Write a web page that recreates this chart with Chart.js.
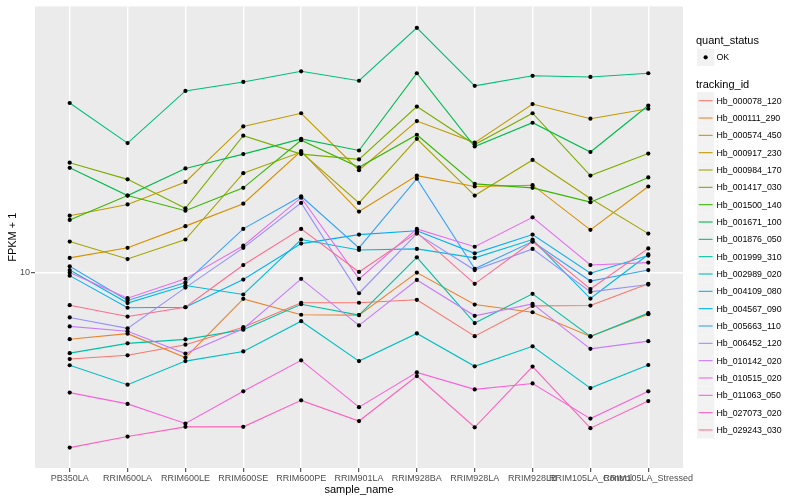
<!DOCTYPE html>
<html>
<head>
<meta charset="utf-8">
<script src="https://cdn.jsdelivr.net/npm/chart.js@4.4.1/dist/chart.umd.min.js"></script>
<style>
  html, body { margin: 0; padding: 0; background: #fff; }
  #wrap { width: 800px; height: 500px; }
</style>
</head>
<body>
<div id="wrap"><canvas id="fpkm"></canvas></div>
<script>
// samples on the x axis
var samples = ["PB350LA", "RRIM600LA", "RRIM600LE", "RRIM600SE", "RRIM600PE", "RRIM901LA",
               "RRIM928BA", "RRIM928LA", "RRIM928LB", "RRIM105LA_Control", "RRIM105LA_Stressed"];
var yTicks = [10];

// FPKM + 1 per gene, one value per sample
var hb000078_120 = [5.14, 5.29, 5.74, 6.57, 7.93, 7.93, 8.11, 6.13, 7.74, 7.76, 9.17];
var hb000111_290 = [5.99, 6.25, 5.20, 8.17, 7.23, 7.21, 10.0, 7.82, 7.37, 6.12, 7.26];
var hb000574_450 = [11.2, 12.1, 14.3, 17.0, 25.5, 16.0, 21.1, 19.4, 19.6, 13.9, 19.4];
var hb000917_230 = [15.5, 16.9, 20.1, 30.8, 34.1, 22.0, 32.1, 27.2, 36.6, 32.7, 35.3];
var hb000984_170 = [12.7, 11.1, 12.9, 21.5, 25.3, 17.1, 28.0, 18.1, 23.8, 17.7, 13.5];
var hb001417_030 = [23.3, 20.5, 16.4, 28.7, 24.9, 23.9, 35.9, 26.8, 34.1, 21.1, 25.0];
var hb001500_140 = [15.0, 18.1, 16.1, 19.2, 27.7, 22.5, 28.9, 19.8, 19.2, 17.2, 20.8];
var hb001671_100 = [22.4, 18.1, 22.3, 24.9, 28.0, 25.6, 46.4, 26.4, 31.7, 25.3, 36.2];
var hb001876_050 = [36.9, 27.1, 40.5, 43.4, 47.1, 43.8, 65.8, 42.1, 45.5, 45.1, 46.4];
var hb001999_310 = [5.38, 5.80, 5.98, 6.44, 7.84, 7.21, 11.25, 6.78, 8.49, 6.12, 7.32];
var hb002989_020 = [4.90, 4.22, 5.06, 5.45, 6.88, 5.06, 6.26, 4.86, 5.67, 4.11, 4.91];
var hb004109_080 = [10.2, 7.91, 9.05, 8.45, 12.9, 11.9, 12.0, 11.2, 12.9, 8.19, 11.5];
var hb004567_090 = [9.77, 7.63, 7.66, 9.48, 12.5, 13.4, 13.8, 11.6, 13.4, 9.95, 11.4];
var hb005663_110 = [10.5, 8.07, 9.26, 14.0, 18.0, 12.1, 20.6, 10.3, 12.7, 9.37, 10.2];
var hb006452_120 = [7.08, 6.51, 8.91, 12.1, 17.1, 8.53, 13.5, 10.2, 12.0, 8.62, 9.12];
var hb010142_020 = [6.61, 6.37, 5.36, 6.49, 9.53, 6.66, 9.45, 7.17, 7.86, 5.56, 5.90];
var hb010515_020 = [10.0, 8.21, 9.53, 12.3, 17.8, 9.53, 14.0, 12.2, 15.3, 10.6, 10.8];
var hb011063_050 = [3.97, 3.64, 3.13, 4.01, 5.09, 3.55, 4.64, 4.07, 4.26, 3.25, 4.01];
var hb027073_020 = [2.60, 2.83, 3.05, 3.05, 3.74, 3.19, 4.51, 3.04, 4.85, 3.02, 3.72];
var hb029243_030 = [7.78, 7.13, 7.66, 10.6, 14.0, 10.05, 13.6, 9.17, 12.7, 8.81, 12.05];

var trackingIds = ["Hb_000078_120", "Hb_000111_290", "Hb_000574_450", "Hb_000917_230", "Hb_000984_170",
                   "Hb_001417_030", "Hb_001500_140", "Hb_001671_100", "Hb_001876_050", "Hb_001999_310",
                   "Hb_002989_020", "Hb_004109_080", "Hb_004567_090", "Hb_005663_110", "Hb_006452_120",
                   "Hb_010142_020", "Hb_010515_020", "Hb_011063_050", "Hb_027073_020", "Hb_029243_030"];
var seriesValues = [hb000078_120, hb000111_290, hb000574_450, hb000917_230, hb000984_170,
                    hb001417_030, hb001500_140, hb001671_100, hb001876_050, hb001999_310,
                    hb002989_020, hb004109_080, hb004567_090, hb005663_110, hb006452_120,
                    hb010142_020, hb010515_020, hb011063_050, hb027073_020, hb029243_030];
var colours = ["#F8766D", "#EA8331", "#D89000", "#C09B00", "#A3A500", "#7CAE00", "#39B600",
               "#00BB4E", "#00BF7D", "#00C1A3", "#00BFC4", "#00BAE0", "#00B0F6", "#35A2FF",
               "#9590FF", "#C77CFF", "#E76BF3", "#FA62DB", "#FF62BC", "#FF6C91"];

var FONT = "'Liberation Sans', Arial, sans-serif";

var datasets = [];
for (var i = 0; i < trackingIds.length; i++) {
  datasets.push({
    label: trackingIds[i],
    data: seriesValues[i].map(function (v, j) { return { x: j, y: v }; }),
    borderColor: colours[i],
    backgroundColor: colours[i],
    borderWidth: 1.1,
    pointRadius: 0,
    tension: 0,
    fill: false,
    order: trackingIds.length - i
  });
}

// grey panel like ggplot
var panelBg = {
  id: 'panelBg',
  beforeDraw: function (chart) {
    var a = chart.chartArea, ctx = chart.ctx;
    ctx.save();
    ctx.fillStyle = '#EBEBEB';
    ctx.fillRect(a.left, a.top, a.right - a.left, a.bottom - a.top);
    ctx.restore();
  }
};

// black points on top of all lines
var blackPoints = {
  id: 'blackPoints',
  afterDatasetsDraw: function (chart) {
    var ctx = chart.ctx;
    ctx.save();
    ctx.fillStyle = '#000';
    for (var d = 0; d < chart.data.datasets.length; d++) {
      var meta = chart.getDatasetMeta(d);
      meta.data.forEach(function (el) {
        ctx.beginPath();
        ctx.arc(el.x, el.y, 2.1, 0, Math.PI * 2);
        ctx.fill();
      });
    }
    ctx.restore();
  }
};

// ggplot style legends on the right
var sideLegend = {
  id: 'sideLegend',
  afterDraw: function (chart) {
    var ctx = chart.ctx;
    var x0 = 697, key = 17.3;
    ctx.save();
    ctx.textBaseline = 'middle';
    ctx.textAlign = 'left';
    ctx.fillStyle = '#000';
    ctx.font = '11px ' + FONT;
    ctx.fillText('quant_status', 696, 41);
    ctx.fillStyle = '#F2F2F2';
    ctx.fillRect(x0, 57.3 - key / 2, key, key);
    ctx.fillStyle = '#000';
    ctx.beginPath();
    ctx.arc(x0 + key / 2, 57.3, 2.1, 0, Math.PI * 2);
    ctx.fill();
    ctx.font = '8.8px ' + FONT;
    ctx.fillText('OK', 716.5, 57.5);

    ctx.font = '11px ' + FONT;
    ctx.fillText('tracking_id', 696, 84.5);
    for (var i = 0; i < trackingIds.length; i++) {
      var cy = 100.7 + i * 17.33;
      ctx.fillStyle = '#F2F2F2';
      ctx.fillRect(x0, cy - key / 2, key, key);
      ctx.strokeStyle = colours[i];
      ctx.lineWidth = 1.1;
      ctx.beginPath();
      ctx.moveTo(x0 + 1.7, cy);
      ctx.lineTo(x0 + key - 1.7, cy);
      ctx.stroke();
      ctx.fillStyle = '#000';
      ctx.font = '8.8px ' + FONT;
      ctx.fillText(trackingIds[i], 716.5, cy + 0.5);
    }
    ctx.restore();
  }
};

new Chart(document.getElementById('fpkm'), {
  type: 'line',
  data: { datasets: datasets },
  plugins: [panelBg, blackPoints, sideLegend],
  options: {
    responsive: true,
    maintainAspectRatio: false,
    animation: false,
    devicePixelRatio: 1,
    layout: { padding: { left: 0, right: 117, top: 5, bottom: 0 } },
    plugins: {
      legend: { display: false },
      tooltip: { enabled: false }
    },
    scales: {
      x: {
        type: 'linear',
        min: -0.6,
        max: 10.6,
        afterBuildTicks: function (scale) {
          scale.ticks = samples.map(function (s, i) { return { value: i }; });
        },
        afterFit: function (scale) { scale.height = 32; },
        ticks: {
          autoSkip: false,
          maxRotation: 0,
          minRotation: 0,
          padding: 1,
          color: '#4D4D4D',
          font: { family: FONT, size: 9 },
          callback: function (v) { return samples[v]; }
        },
        grid: { color: '#FFFFFF', lineWidth: 1.4, drawTicks: true, tickLength: 4, tickColor: '#333333', tickWidth: 1 },
        border: { display: false },
        title: { display: true, text: 'sample_name', color: '#000', font: { family: FONT, size: 11 }, padding: { top: 0, bottom: 3.4 } }
      },
      y: {
        type: 'logarithmic',
        min: 2.222,
        max: 77.62,
        afterBuildTicks: function (scale) {
          scale.ticks = yTicks.map(function (v) { return { value: v }; });
        },
        afterFit: function (scale) { scale.width = 35; },
        ticks: {
          padding: 1,
          color: '#4D4D4D',
          font: { family: FONT, size: 9 },
          callback: function (v) { return String(v); }
        },
        grid: { color: '#FFFFFF', lineWidth: 1.4, drawTicks: true, tickLength: 4, tickColor: '#333333', tickWidth: 1 },
        border: { display: false },
        title: { display: true, text: 'FPKM + 1', color: '#000', font: { family: FONT, size: 11 }, padding: { top: 6, bottom: 0 } }
      }
    }
  }
});
</script>
</body>
</html>
